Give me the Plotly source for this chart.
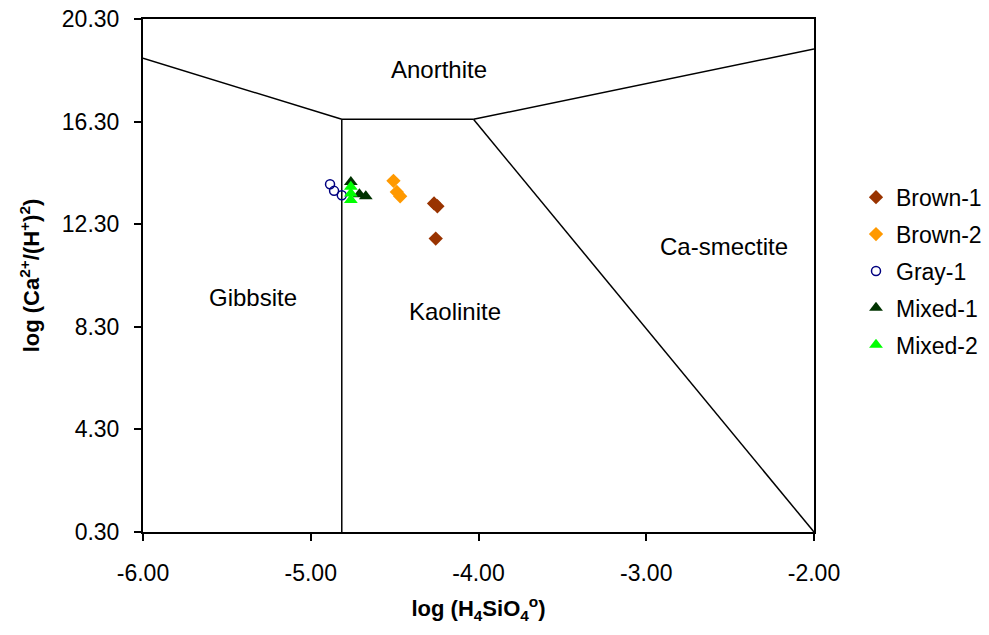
import plotly.graph_objects as go

# Stability field boundaries (log H4SiO4, log Ca2+/(H+)^2)
anorthite_gibbsite_x = [-6.0, -4.815]
anorthite_gibbsite_y = [18.77, 16.39]
anorthite_kaolinite_x = [-4.815, -4.03]
anorthite_kaolinite_y = [16.39, 16.39]
anorthite_smectite_x = [-4.03, -2.0]
anorthite_smectite_y = [16.39, 19.13]
gibbsite_kaolinite_x = [-4.815, -4.815]
gibbsite_kaolinite_y = [16.39, 0.3]
kaolinite_smectite_x = [-4.03, -2.0]
kaolinite_smectite_y = [16.39, 0.3]

# Samples
brown1_x = [-4.265, -4.245, -4.255]
brown1_y = [13.11, 13.00, 11.74]
brown2_x = [-4.507, -4.487, -4.467]
brown2_y = [13.99, 13.56, 13.39]
gray1_x = [-4.885, -4.861, -4.815]
gray1_y = [13.86, 13.60, 13.43]
mixed1_x = [-4.761, -4.710, -4.672]
mixed1_y = [13.95, 13.47, 13.39]
mixed2_x = [-4.761, -4.761, -4.761]
mixed2_y = [13.76, 13.50, 13.24]

field_labels = ["Anorthite", "Gibbsite", "Kaolinite", "Ca-smectite"]
field_x = [-4.235, -5.344, -4.14, -2.535]
field_y = [18.35, 9.45, 8.91, 11.44]

x_ticks = [-6, -5, -4, -3, -2]
x_tick_labels = ["-6.00", "-5.00", "-4.00", "-3.00", "-2.00"]
y_ticks = [0.3, 4.3, 8.3, 12.3, 16.3, 20.3]
y_tick_labels = ["0.30", "4.30", "8.30", "12.30", "16.30", "20.30"]

FONT = "Liberation Sans, Arial, sans-serif"

fig = go.Figure()

for bx, by in [(anorthite_gibbsite_x, anorthite_gibbsite_y),
               (anorthite_kaolinite_x, anorthite_kaolinite_y),
               (anorthite_smectite_x, anorthite_smectite_y),
               (gibbsite_kaolinite_x, gibbsite_kaolinite_y),
               (kaolinite_smectite_x, kaolinite_smectite_y)]:
    fig.add_trace(go.Scatter(x=bx, y=by, mode="lines", line=dict(color="black", width=1.5),
                             showlegend=False, hoverinfo="skip"))

series = [
    ("Brown-1", brown1_x, brown1_y, dict(symbol="diamond", size=11, color="#993300")),
    ("Brown-2", brown2_x, brown2_y, dict(symbol="diamond", size=11, color="#FF9900")),
    ("Gray-1", gray1_x, gray1_y, dict(symbol="circle-open", size=9, color="#000080", line=dict(width=1.5))),
    ("Mixed-1", mixed1_x, mixed1_y, dict(symbol="triangle-up", size=12, color="#003300")),
    ("Mixed-2", mixed2_x, mixed2_y, dict(symbol="triangle-up", size=12, color="#00FF00")),
]
for i, (name, sx, sy, mk) in enumerate(series):
    fig.add_trace(go.Scatter(x=sx, y=sy, mode="markers", name=name, marker=mk,
                             legendgroup=f"g{i}"))

for t, tx, ty in zip(field_labels, field_x, field_y):
    fig.add_annotation(x=tx, y=ty, text=t, showarrow=False,
                       font=dict(size=24, color="black", family=FONT))

fig.update_layout(
    width=989, height=635,
    margin=dict(l=143, r=175, t=19, b=103, autoexpand=False),
    paper_bgcolor="white", plot_bgcolor="white",
    font=dict(family=FONT, size=22, color="black"),
    legend=dict(x=1.0626, y=0.6945, xanchor="left", yanchor="top",
                font=dict(size=23), tracegroupgap=4, itemwidth=30),
    xaxis=dict(range=[-6, -2], tickvals=x_ticks, ticktext=x_tick_labels,
               showgrid=False, zeroline=False, showline=True, linecolor="black",
               linewidth=2, mirror=True, ticks="outside", ticklen=7, tickcolor="black",
               tickwidth=1.5, tickfont=dict(size=23), ticklabelstandoff=12,
               automargin=False, ticklabeloverflow="allow",
               title=dict(text="<b>log (H<sub>4</sub>SiO<sub>4</sub><sup>o</sup>)</b>",
                          font=dict(size=22), standoff=16)),
    yaxis=dict(range=[0.3, 20.3], tickvals=y_ticks, ticktext=y_tick_labels,
               showgrid=False, zeroline=False, showline=True, linecolor="black",
               linewidth=2, mirror=True, ticks="outside", ticklen=7, tickcolor="black",
               tickwidth=1.5, tickfont=dict(size=23), ticklabelstandoff=10,
               automargin=False, ticklabeloverflow="allow",
               title=dict(text="<b>log (Ca<sup>2+</sup>/(H<sup>+</sup>)<sup>2</sup>)</b>",
                          font=dict(size=22), standoff=16)),
)

fig.write_html("out.html", config={"displayModeBar": False},
               post_script="document.body.style.margin='0px';")
